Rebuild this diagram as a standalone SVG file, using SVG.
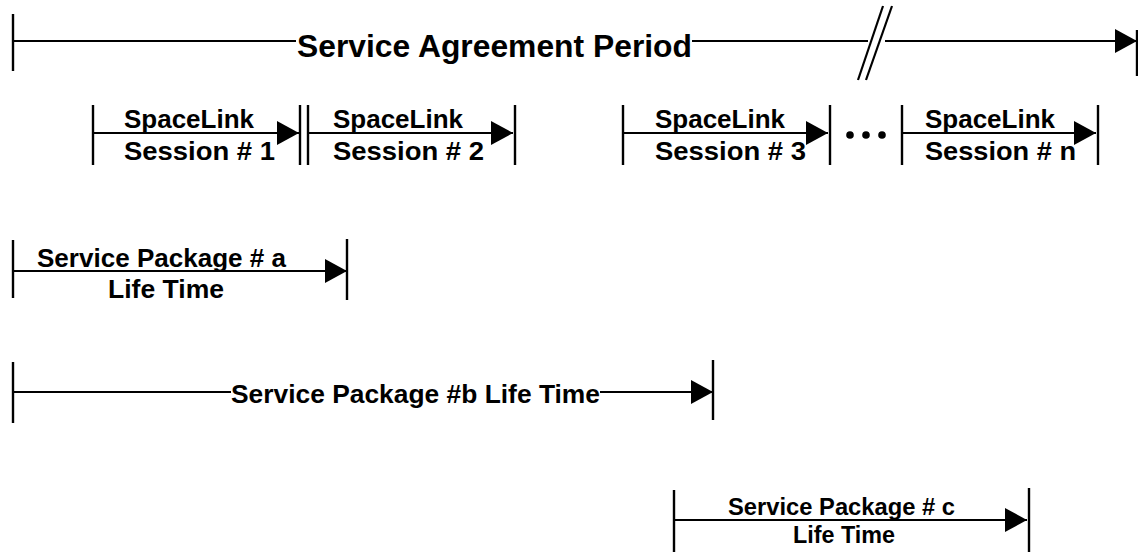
<svg xmlns="http://www.w3.org/2000/svg" width="1138" height="552" viewBox="0 0 1138 552">
<style>
.ln{stroke:#000;stroke-width:2.2;fill:none}
.tk{stroke:#000;stroke-width:2.4;fill:none}
.t{font-family:"Liberation Sans",Arial,sans-serif;font-weight:bold;fill:#000}
</style>
<defs>
<marker id="ah" markerUnits="userSpaceOnUse" markerWidth="22" markerHeight="24" refX="22" refY="12" orient="auto" viewBox="0 0 22 24">
<path d="M0,0 L22,12 L0,24 Z" fill="#000"/>
</marker>
</defs>
<rect width="1138" height="552" fill="#fff"/>
<g id="connectors">
<line class="ln" x1="13" y1="41" x2="296" y2="41"/>
<line class="ln" x1="692" y1="41" x2="868" y2="41"/>
<line class="ln" x1="885" y1="41" x2="1137" y2="41" marker-end="url(#ah)"/>
<line class="ln" x1="93" y1="133" x2="299" y2="133" marker-end="url(#ah)"/>
<line class="ln" x1="308" y1="133" x2="513" y2="133" marker-end="url(#ah)"/>
<line class="ln" x1="623" y1="133" x2="828" y2="133" marker-end="url(#ah)"/>
<line class="ln" x1="902" y1="133" x2="1096" y2="133" marker-end="url(#ah)"/>
<line class="ln" x1="13" y1="271" x2="347" y2="271" marker-end="url(#ah)"/>
<line class="ln" x1="13" y1="392" x2="231" y2="392"/>
<line class="ln" x1="600" y1="392" x2="713" y2="392" marker-end="url(#ah)"/>
<line class="ln" x1="674" y1="520" x2="1027" y2="520" marker-end="url(#ah)"/>
</g>
<g id="service-agreement-period">
<line class="tk" x1="13" y1="14" x2="13" y2="71"/>
<line class="tk" x1="1137" y1="30" x2="1137" y2="76"/>
<line class="ln" x1="858" y1="80" x2="883" y2="6"/>
<line class="ln" x1="866" y1="80" x2="892" y2="6"/>
<text class="t" x="297" y="57" font-size="31.5" textLength="395" lengthAdjust="spacingAndGlyphs">Service Agreement Period</text>
</g>
<g id="session-1">
<line class="tk" x1="93" y1="105" x2="93" y2="165"/>
<line class="tk" x1="300" y1="105" x2="300" y2="165"/>
<text class="t" x="124" y="128" font-size="26" textLength="130" lengthAdjust="spacingAndGlyphs">SpaceLink</text>
<text class="t" x="124" y="160" font-size="26" textLength="151" lengthAdjust="spacingAndGlyphs">Session # 1</text>
</g>
<g id="session-2">
<line class="tk" x1="308" y1="105" x2="308" y2="165"/>
<line class="tk" x1="515" y1="105" x2="515" y2="165"/>
<text class="t" x="333" y="128" font-size="26" textLength="130" lengthAdjust="spacingAndGlyphs">SpaceLink</text>
<text class="t" x="333" y="160" font-size="26" textLength="151" lengthAdjust="spacingAndGlyphs">Session # 2</text>
</g>
<g id="session-3">
<line class="tk" x1="623" y1="105" x2="623" y2="165"/>
<line class="tk" x1="830" y1="105" x2="830" y2="165"/>
<text class="t" x="655" y="128" font-size="26" textLength="130" lengthAdjust="spacingAndGlyphs">SpaceLink</text>
<text class="t" x="655" y="160" font-size="26" textLength="151" lengthAdjust="spacingAndGlyphs">Session # 3</text>
</g>
<g id="ellipsis">
<circle cx="850" cy="135" r="3.8"/>
<circle cx="866" cy="135" r="3.8"/>
<circle cx="882" cy="135" r="3.8"/>
</g>
<g id="session-n">
<line class="tk" x1="902" y1="105" x2="902" y2="165"/>
<line class="tk" x1="1098" y1="105" x2="1098" y2="165"/>
<text class="t" x="925" y="128" font-size="26" textLength="130" lengthAdjust="spacingAndGlyphs">SpaceLink</text>
<text class="t" x="925" y="160" font-size="26" textLength="151" lengthAdjust="spacingAndGlyphs">Session # n</text>
</g>
<g id="package-a">
<line class="tk" x1="13" y1="240" x2="13" y2="298"/>
<line class="tk" x1="347" y1="239" x2="347" y2="300"/>
<text class="t" x="37" y="267" font-size="26" textLength="249" lengthAdjust="spacingAndGlyphs">Service Package # a</text>
<text class="t" x="108" y="298" font-size="26" textLength="116" lengthAdjust="spacingAndGlyphs">Life Time</text>
</g>
<g id="package-b">
<line class="tk" x1="13" y1="362" x2="13" y2="423"/>
<line class="tk" x1="713" y1="360" x2="713" y2="420"/>
<text class="t" x="231" y="403" font-size="25.5" textLength="369" lengthAdjust="spacingAndGlyphs">Service Package #b Life Time</text>
</g>
<g id="package-c">
<line class="tk" x1="674" y1="490" x2="674" y2="552"/>
<line class="tk" x1="1029" y1="488" x2="1029" y2="552"/>
<text class="t" x="728" y="515" font-size="23.7" textLength="227" lengthAdjust="spacingAndGlyphs">Service Package # c</text>
<text class="t" x="793" y="543" font-size="23.7" textLength="102" lengthAdjust="spacingAndGlyphs">Life Time</text>
</g>
</svg>
